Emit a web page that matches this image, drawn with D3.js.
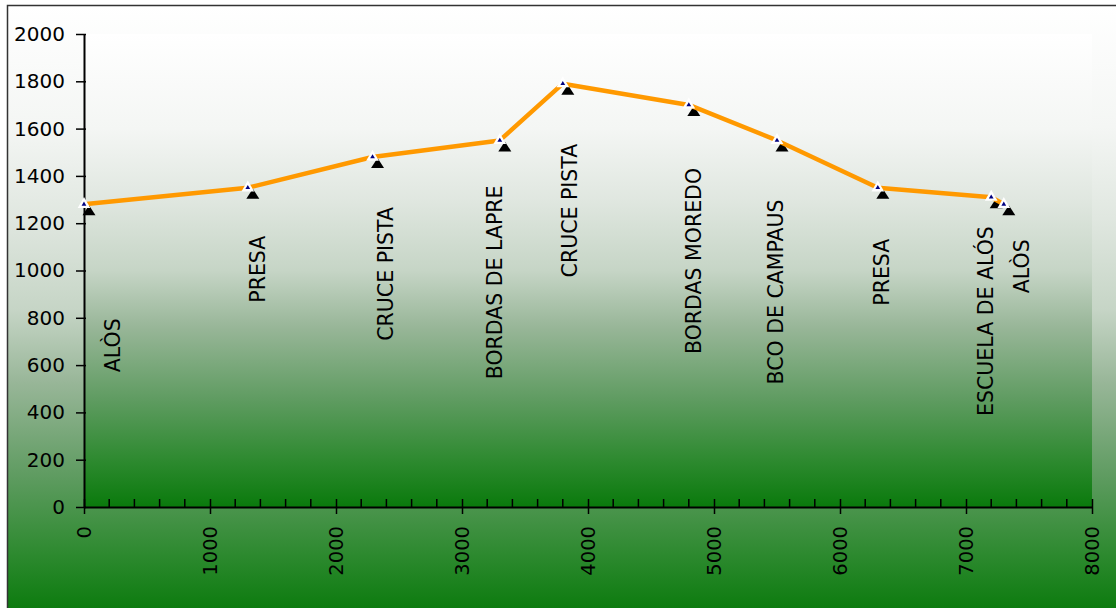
<!DOCTYPE html>
<html>
<head>
<meta charset="utf-8">
<script src="https://cdn.jsdelivr.net/npm/d3@7"></script>
<style>
  body { margin: 0; background: #fff; }
  text { font-family: "DejaVu Sans", Verdana, sans-serif; }
</style>
</head>
<body>
<div id="chart"></div>
<script>
// route profile: distance (m) and altitude (m)
let distance = [0, 1300, 2290, 3300, 3800, 4800, 5500, 6300, 7200, 7300];
let altitude = [1280, 1350, 1480, 1550, 1790, 1700, 1550, 1350, 1310, 1280];
let placeNames = ['ALÒS', 'PRESA', 'CRUCE PISTA', 'BORDAS DE LAPRE', 'CRUCE PISTA',
  'BORDAS MOREDO', 'BCO DE CAMPAUS', 'PRESA', 'ESCUELA DE ALÓS', 'ALÒS'];
let xTicks = [0, 1000, 2000, 3000, 4000, 5000, 6000, 7000, 8000];
let yTicks = [0, 200, 400, 600, 800, 1000, 1200, 1400, 1600, 1800, 2000];

// hand placed labels, offset from their point in px
let labelDx = [29, 10, 13, -5, 7, 5, -1, 4, -6, 18];
let labelDy = [114, 48, 50, 45, 60, 63, 59, 51, 29, 35];

let width = 1116, height = 608;
let plotLeft = 84, plotRight = 1092, plotTop = 34, plotBottom = 507;

let svg = d3.select('#chart').append('svg')
  .attr('width', width)
  .attr('height', height);

let defs = svg.append('defs');
function addGradient(id) {
  let g = defs.append('linearGradient')
    .attr('id', id)
    .attr('x1', 0).attr('y1', 0).attr('x2', 0).attr('y2', 1);
  let stops = [
    [0, '#ffffff'], [0.2, '#f4f6f4'], [0.35, '#e0e7e0'], [0.5, '#c6d5c6'],
    [0.62, '#98b698'], [0.77, '#609c62'], [0.9, '#2e8a30'], [1, '#0a7a0c']
  ];
  stops.forEach(function(s) {
    g.append('stop').attr('offset', s[0]).attr('stop-color', s[1]);
  });
}
addGradient('outerFill');
addGradient('plotFill');

// chart area
svg.append('rect')
  .attr('x', 7.5).attr('y', 5.5)
  .attr('width', width).attr('height', height)
  .attr('fill', 'url(#outerFill)')
  .attr('stroke', '#333')
  .attr('stroke-width', 1.5);

let x = d3.scaleLinear().domain([0, 8000]).range([plotLeft, plotRight]);
let y = d3.scaleLinear().domain([0, 2000]).range([plotBottom, plotTop]);

// plot area
svg.append('rect')
  .attr('x', plotLeft).attr('y', plotTop)
  .attr('width', plotRight - plotLeft).attr('height', plotBottom - plotTop)
  .attr('fill', 'url(#plotFill)');

// y axis
let yAxis = svg.append('g')
  .attr('transform', 'translate(' + plotLeft + ',0)')
  .call(d3.axisLeft(y).tickValues(yTicks).tickFormat(d3.format('d'))
    .tickSize(8).tickPadding(11).tickSizeOuter(0));
yAxis.selectAll('.tick line').attr('x2', -8).attr('x1', 2);
yAxis.selectAll('text').attr('font-size', 20).attr('fill', '#000');

// x axis: minor ticks every 200 pointing up, majors crossing
let minor = d3.range(0, 8001, 200).filter(function(d) { return d % 1000 !== 0; });
svg.append('g')
  .selectAll('line')
  .data(minor)
  .enter()
  .append('line')
  .attr('x1', function(d) { return x(d); })
  .attr('x2', function(d) { return x(d); })
  .attr('y1', plotBottom - 8)
  .attr('y2', plotBottom)
  .attr('stroke', '#000')
  .attr('stroke-width', 1.5);

let xAxis = svg.append('g')
  .attr('transform', 'translate(0,' + plotBottom + ')')
  .call(d3.axisBottom(x).tickValues(xTicks).tickFormat(d3.format('d')).tickSize(7).tickSizeOuter(0));
xAxis.selectAll('.tick line').attr('y1', -8);
xAxis.selectAll('text')
  .attr('font-size', 19.5)
  .attr('fill', '#000')
  .attr('transform', 'rotate(-90)')
  .attr('text-anchor', 'end')
  .attr('x', -19)
  .attr('y', 0)
  .attr('dy', '0.35em');

svg.selectAll('.domain').attr('stroke', '#000').attr('stroke-width', 2);
svg.selectAll('.tick line').attr('stroke', '#000').attr('stroke-width', 1.5);

let points = distance.map(function(d, i) { return [d, altitude[i]]; });

// black triangles behind the line
svg.append('g')
  .selectAll('path')
  .data(points)
  .enter()
  .append('path')
  .attr('d', function(d) {
    let px = x(d[0]) + 5, py = y(d[1]);
    return 'M' + px + ',' + (py + 1) + 'L' + (px + 6.5) + ',' + (py + 11) + 'L' + (px - 6.5) + ',' + (py + 11) + 'Z';
  })
  .attr('fill', '#000');

svg.append('path')
  .datum(points)
  .attr('d', d3.line().x(function(d) { return x(d[0]); }).y(function(d) { return y(d[1]); }))
  .attr('fill', 'none')
  .attr('stroke', '#ff9900')
  .attr('stroke-width', 4.5)
  .attr('stroke-linejoin', 'round');

let marks = svg.append('g')
  .selectAll('g')
  .data(points)
  .enter()
  .append('g')
  .attr('transform', function(d) { return 'translate(' + x(d[0]) + ',' + y(d[1]) + ')'; });
marks.append('path')
  .attr('d', d3.symbol(d3.symbolTriangle, 70))
  .attr('fill', '#fff');
marks.append('path')
  .attr('d', d3.symbol(d3.symbolTriangle, 10))
  .attr('fill', '#000080');

// place names
svg.append('g')
  .selectAll('text')
  .data(placeNames)
  .enter()
  .append('text')
  .attr('transform', function(d, i) {
    return 'translate(' + (x(distance[i]) + labelDx[i]) + ',' + (y(altitude[i]) + labelDy[i]) + ') rotate(-90)';
  })
  .attr('text-anchor', 'end')
  .attr('dy', '0.36em')
  .attr('font-size', 20.5)
  .attr('fill', '#000')
  .text(function(d) { return d; });
</script>
</body>
</html>
